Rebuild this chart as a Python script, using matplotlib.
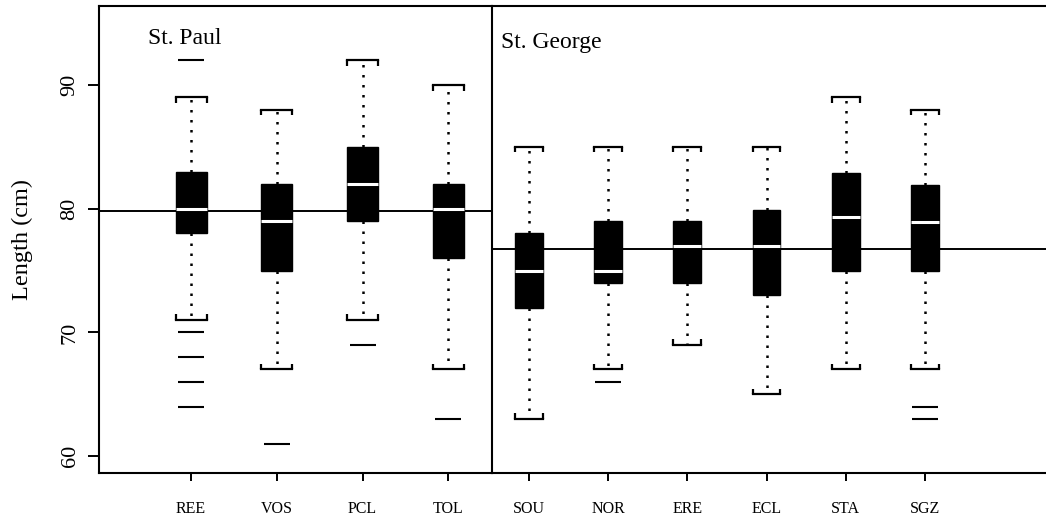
import matplotlib
matplotlib.use('Agg')
import matplotlib.pyplot as plt

# --- Data ---
PAUL_SITES = ['REE', 'VOS', 'PCL', 'TOL']
PAUL_LOW = [71, 67, 71, 67]
PAUL_Q1 = [78, 75, 79, 76]
PAUL_MED = [80, 79, 82, 80]
PAUL_Q3 = [83, 82, 85, 82]
PAUL_HIGH = [89, 88, 92, 90]
PAUL_OUT = [[92, 70, 68, 66, 64], [61], [69], [63]]
PAUL_MEAN = 79.84

GEORGE_SITES = ['SOU', 'NOR', 'ERE', 'ECL', 'STA', 'SGZ']
GEORGE_LOW = [63, 67, 69, 65, 67, 67]
GEORGE_Q1 = [72, 74, 74, 73, 75, 75]
GEORGE_MED = [75, 75, 77, 77, 79.3, 78.9]
GEORGE_Q3 = [78, 79, 79, 79.9, 82.9, 81.9]
GEORGE_HIGH = [85, 85, 85, 85, 89, 88]
GEORGE_OUT = [[], [66], [], [], [], [64, 63]]
GEORGE_MEAN = 76.77

W, H = 1046, 526
FONT = 'Liberation Serif'
plt.rcParams['font.family'] = [FONT, 'DejaVu Serif']


def draw_panel(ax, sites, low, q1, med, q3, high, out, mean, width):
    stats = []
    for i in range(len(sites)):
        stats.append(dict(med=med[i], q1=q1[i], q3=q3[i],
                          whislo=low[i], whishi=high[i], fliers=out[i]))
    pos = list(range(1, len(sites) + 1))
    ax.axhline(mean, color='black', lw=1.4, zorder=1)
    ax.bxp(stats, positions=pos, widths=width, capwidths=width,
           patch_artist=True, showfliers=True,
           boxprops=dict(facecolor='black', edgecolor='black', lw=1),
           medianprops=dict(color='white', lw=2.2),
           whiskerprops=dict(color='black', lw=1.8, linestyle=(0, (1, 3))),
           capprops=dict(color='black', lw=1.6),
           flierprops=dict(marker='_', markersize=19, markeredgewidth=1.5,
                           markeredgecolor='black'),
           zorder=3)
    # small end ticks on the caps (bracket look)
    tick = 0.45
    for p, lo, hi in zip(pos, low, high):
        for x in (p - width / 2, p + width / 2):
            ax.vlines(x, hi - tick, hi, color='black', lw=1.6, zorder=3)
            ax.vlines(x, lo, lo + tick, color='black', lw=1.6, zorder=3)
    ax.set_xticks(pos)
    ax.set_xticklabels(sites, fontsize=11.5)
    ax.tick_params(axis='x', length=6, width=1.4, pad=14)
    ax.set_ylim(58.63, 96.39)


fig = plt.figure(figsize=(W / 100, H / 100), dpi=100, facecolor='white')
bottom = (H - 473) / H
height = (473 - 6) / H
ax1 = fig.add_axes([99 / W, bottom, (492 - 99) / W, height])
ax2 = fig.add_axes([492 / W, bottom, (W - 492) / W, height], sharey=ax1)
ax2.patch.set_visible(False)

draw_panel(ax1, PAUL_SITES, PAUL_LOW, PAUL_Q1, PAUL_MED, PAUL_Q3,
           PAUL_HIGH, PAUL_OUT, PAUL_MEAN, 0.36)
draw_panel(ax2, GEORGE_SITES, GEORGE_LOW, GEORGE_Q1, GEORGE_MED, GEORGE_Q3,
           GEORGE_HIGH, GEORGE_OUT, GEORGE_MEAN, 0.35)

ax1.set_xlim(-0.074, 4.51)
ax2.set_xlim(0.533, 7.53)

ax1.set_yticks([60, 70, 80, 90])
ax1.set_yticklabels(['60', '70', '80', '90'], rotation=90, va='center',
                    fontsize=16)
ax1.tick_params(axis='y', length=8, width=1.4, pad=6)
ax1.set_ylabel('Length (cm)', fontsize=17.5, labelpad=20)
ax2.tick_params(axis='y', left=False, labelleft=False)

for sp in ax1.spines.values():
    sp.set_linewidth(1.5)
    sp.set_zorder(5)
for sp in ax2.spines.values():
    sp.set_linewidth(1.5)
ax2.spines['left'].set_visible(False)
ax2.spines['right'].set_visible(False)

ax1.text(0.125, 0.93, 'St. Paul', transform=ax1.transAxes, fontsize=17,
         va='center', ha='left')
ax2.text(0.016, 0.922, 'St. George', transform=ax2.transAxes, fontsize=17,
         va='center', ha='left')

fig.savefig('out.png', dpi=100, facecolor='white')
